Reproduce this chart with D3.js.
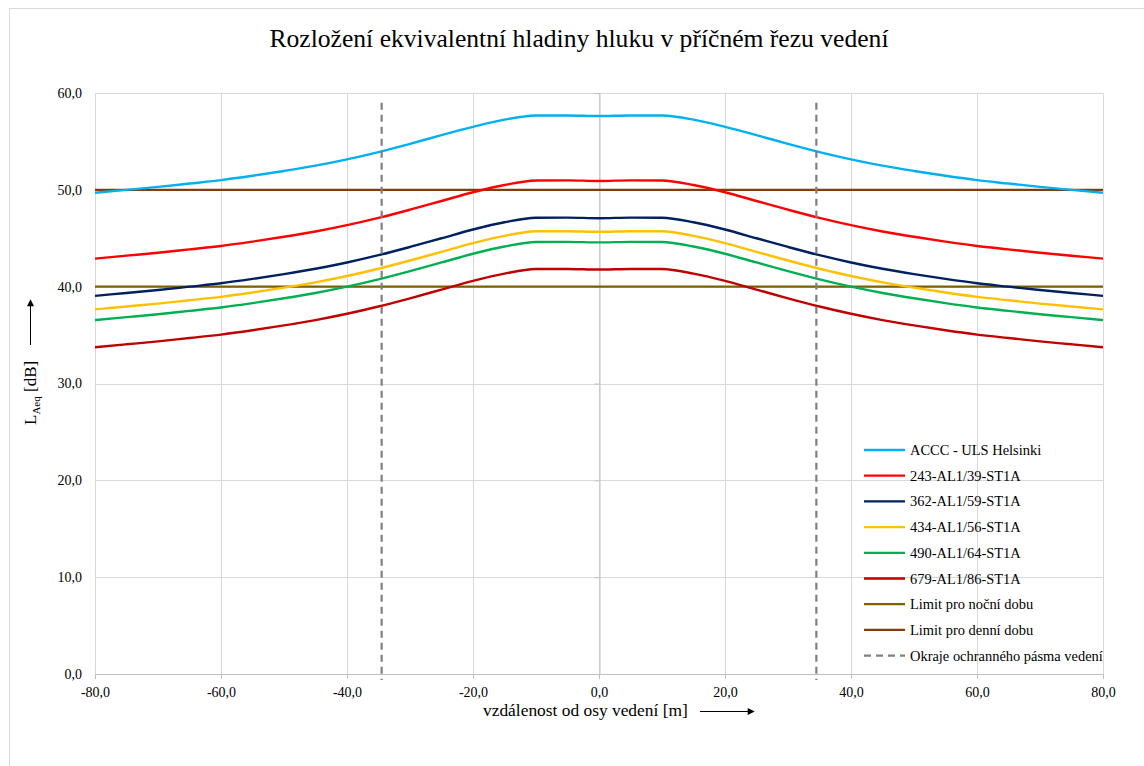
<!DOCTYPE html>
<html>
<head>
<meta charset="utf-8">
<script src="https://cdn.jsdelivr.net/npm/d3@7"></script>
<style>
  html, body { margin: 0; padding: 0; background: #fff; }
  svg { display: block; }
  text { font-family: "Liberation Serif", "Times New Roman", serif; fill: #000; }
</style>
</head>
<body>
<svg id="chart" width="1144" height="766"></svg>
<script>
// ---- data ----
const xValues = [-80,-75,-70,-65,-60,-55,-50,-45,-40,-35,-30,-25,-20,-15,-10,-5,0,5,10,15,20,25,30,35,40,45,50,55,60,65,70,75,80];
const accc    = [49.70,50.00,50.30,50.65,51.00,51.45,51.95,52.50,53.15,53.90,54.75,55.65,56.50,57.25,57.67,57.68,57.62,57.68,57.67,57.25,56.50,55.65,54.75,53.90,53.15,52.50,51.95,51.45,51.00,50.65,50.30,50.00,49.70];
const s243    = [42.90,43.20,43.50,43.85,44.20,44.65,45.15,45.70,46.35,47.10,47.95,48.85,49.75,50.50,50.97,50.98,50.92,50.98,50.97,50.50,49.75,48.85,47.95,47.10,46.35,45.70,45.15,44.65,44.20,43.85,43.50,43.20,42.90];
const s362    = [39.05,39.35,39.65,40.00,40.35,40.80,41.30,41.85,42.50,43.25,44.10,45.00,45.90,46.65,47.12,47.13,47.07,47.13,47.12,46.65,45.90,45.00,44.10,43.25,42.50,41.85,41.30,40.80,40.35,40.00,39.65,39.35,39.05];
const s434    = [37.65,37.95,38.25,38.60,38.95,39.40,39.90,40.45,41.10,41.85,42.70,43.60,44.50,45.25,45.72,45.73,45.67,45.73,45.72,45.25,44.50,43.60,42.70,41.85,41.10,40.45,39.90,39.40,38.95,38.60,38.25,37.95,37.65];
const s490    = [36.55,36.85,37.15,37.50,37.85,38.30,38.80,39.35,40.00,40.75,41.60,42.50,43.40,44.15,44.62,44.63,44.57,44.63,44.62,44.15,43.40,42.50,41.60,40.75,40.00,39.35,38.80,38.30,37.85,37.50,37.15,36.85,36.55];
const s679    = [33.75,34.05,34.35,34.70,35.05,35.50,36.00,36.55,37.20,37.95,38.80,39.70,40.60,41.35,41.82,41.83,41.77,41.83,41.82,41.35,40.60,39.70,38.80,37.95,37.20,36.55,36.00,35.50,35.05,34.70,34.35,34.05,33.75];
const nightLimit = [40, 40];
const dayLimit   = [50, 50];
const limitX     = [-80, 80];
const zoneEdges  = [-34.5, 34.5];
const xTicks = [-80,-60,-40,-20,0,20,40,60,80];
const yTicks = [0,10,20,30,40,50,60];

const seriesNames = ["ACCC - ULS Helsinki","243-AL1/39-ST1A","362-AL1/59-ST1A","434-AL1/56-ST1A","490-AL1/64-ST1A","679-AL1/86-ST1A"];
const seriesData  = [accc, s243, s362, s434, s490, s679];
const seriesColors = ["#00B0F0","#FF0000","#002060","#FFC000","#00B050","#C00000"];
const limitNames = ["Limit pro noční dobu","Limit pro denní dobu"];
const limitData = [nightLimit, dayLimit];
const limitColors = ["#7F6000","#843C0C"];
const zoneName = "Okraje ochranného pásma vedení";

const title = "Rozložení ekvivalentní hladiny hluku v příčném řezu vedení";
const xTitle = "vzdálenost od osy vedení [m]";

// ---- layout ----
const svg = d3.select("#chart");
const L = 95, R = 1103, T = 93, B = 674;
const x = d3.scaleLinear().domain([-80, 80]).range([L, R]);
const y = d3.scaleLinear().domain([0, 60]).range([B, T]);
const fmt = v => d3.format(".1f")(v).replace(".", ",").replace("−","-");

// outer border
svg.append("rect").attr("x", 9.5).attr("y", 8.5).attr("width", 1150).attr("height", 770)
  .attr("fill", "none").attr("stroke", "#d9d9d9").attr("stroke-width", 1);

// title
svg.append("text").attr("x", 579).attr("y", 47).attr("text-anchor", "middle")
  .attr("font-size", 25.6).text(title);

// gridlines
svg.append("g").selectAll("line").data(yTicks).join("line")
  .attr("x1", L).attr("x2", R).attr("y1", d => Math.round(y(d)) + 0.5).attr("y2", d => Math.round(y(d)) + 0.5)
  .attr("stroke", "#d9d9d9").attr("stroke-width", 1);
svg.append("g").selectAll("line").data(xTicks).join("line")
  .attr("y1", T).attr("y2", B).attr("x1", d => Math.round(x(d)) + 0.5).attr("x2", d => Math.round(x(d)) + 0.5)
  .attr("stroke", "#d9d9d9").attr("stroke-width", 1);

// x axis (bottom) with ticks
const xAxis = svg.append("g").attr("transform", `translate(0,${B})`)
  .call(d3.axisBottom(x).tickValues(xTicks).tickSize(5).tickFormat(fmt));
xAxis.select(".domain").attr("stroke", "#bfbfbf");
xAxis.selectAll(".tick line").attr("stroke", "#bfbfbf");
xAxis.selectAll(".tick text").attr("font-family", "Liberation Serif, serif").attr("font-size", 14).attr("dy", "1.05em").attr("fill", "#000");

// y axis line at x=0 with ticks, labels at left
const yAxisLine = svg.append("g").attr("transform", `translate(${Math.round(x(0)) + 0.5},0)`)
  .call(d3.axisLeft(y).tickValues(yTicks).tickSize(5).tickFormat(""));
yAxisLine.select(".domain").attr("stroke", "#bfbfbf");
yAxisLine.selectAll(".tick line").attr("stroke", "#bfbfbf");
svg.append("g").selectAll("text").data(yTicks).join("text")
  .attr("x", 82).attr("y", d => y(d)).attr("dy", "0.35em").attr("text-anchor", "end")
  .attr("font-size", 14).text(fmt);

const line = d3.line().x(d => x(d[0])).y(d => y(d[1])).curve(d3.curveMonotoneX);
const plot = svg.append("g");

// limits
limitData.forEach((ld, i) => {
  plot.append("path").datum(limitX.map((xv, j) => [xv, ld[j]]))
    .attr("d", line).attr("fill", "none").attr("stroke", limitColors[i]).attr("stroke-width", 2.3);
});

// series
seriesData.forEach((sd, i) => {
  plot.append("path").datum(xValues.map((xv, j) => [xv, sd[j]]))
    .attr("d", line).attr("fill", "none").attr("stroke", seriesColors[i]).attr("stroke-width", 2.4);
});

// zone edges
plot.selectAll(".zone").data(zoneEdges).join("line")
  .attr("x1", d => x(d)).attr("x2", d => x(d)).attr("y1", y(59)).attr("y2", B + 6)
  .attr("stroke", "#808080").attr("stroke-width", 2.2).attr("stroke-dasharray", "7,5");

// legend
const legItems = seriesNames.map((n, i) => ({name: n, color: seriesColors[i], dash: null}))
  .concat(limitNames.map((n, i) => ({name: n, color: limitColors[i], dash: null})))
  .concat([{name: zoneName, color: "#808080", dash: "7,5"}]);
const leg = svg.append("g").attr("transform", "translate(864,450)");
const li = leg.selectAll("g").data(legItems).join("g").attr("transform", (d, i) => `translate(0,${i * 25.7})`);
li.append("line").attr("x1", 0).attr("x2", 41).attr("y1", 0).attr("y2", 0)
  .attr("stroke", d => d.color).attr("stroke-width", 2.3).attr("stroke-dasharray", d => d.dash);
li.append("text").attr("x", 46).attr("y", 0).attr("dy", "0.35em").attr("font-size", 14.45).text(d => d.name);

// defs arrow
svg.append("defs").append("marker").attr("id", "arr").attr("viewBox", "0 0 10 10")
  .attr("refX", 9).attr("refY", 5).attr("markerWidth", 9).attr("markerHeight", 7)
  .attr("markerUnits", "userSpaceOnUse").attr("orient", "auto")
  .append("path").attr("d", "M0,0 L10,5 L0,10 z").attr("fill", "#000");

// x title
svg.append("text").attr("x", 483).attr("y", 716).attr("font-size", 17.4).text(xTitle);
svg.append("line").attr("x1", 700).attr("x2", 754).attr("y1", 711.5).attr("y2", 711.5)
  .attr("stroke", "#000").attr("stroke-width", 1).attr("marker-end", "url(#arr)");

// y title
const yt = svg.append("text").attr("transform", "translate(36,425) rotate(-90)").attr("font-size", 17);
yt.append("tspan").text("L");
yt.append("tspan").attr("font-size", 11).attr("dy", 4).text("Aeq");
yt.append("tspan").attr("dy", -4).text(" [dB]");
svg.append("line").attr("x1", 30.5).attr("x2", 30.5).attr("y1", 345).attr("y2", 300)
  .attr("stroke", "#000").attr("stroke-width", 1).attr("marker-end", "url(#arr)");
</script>
</body>
</html>
